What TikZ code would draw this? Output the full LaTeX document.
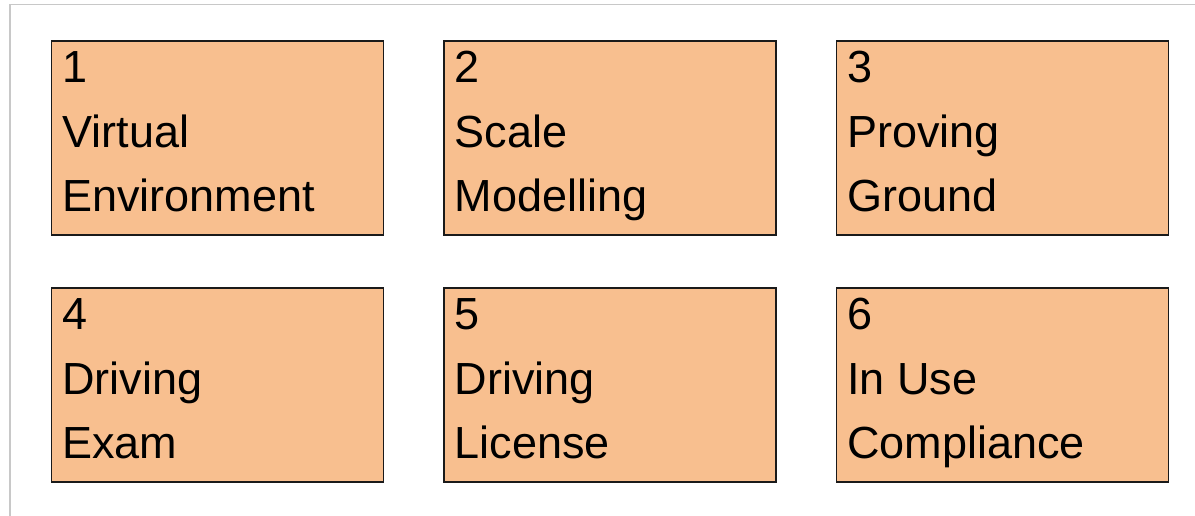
\documentclass[tikz,border=0pt]{standalone}
\usepackage{fontspec}
\setmainfont{Liberation Sans}
\definecolor{peach}{HTML}{F8BF8F}
\definecolor{framegray}{HTML}{C8C8C8}
\definecolor{edge}{HTML}{1A1A1A}
\newcommand{\boxtext}[3]{\parbox[b][194pt][t]{310pt}{\fontsize{45pt}{64.5pt}\selectfont\rule{0pt}{42pt}#1\\#2\\#3}}
\begin{document}
\begin{tikzpicture}[x=1pt,y=-1pt,
  stagebox/.style={draw=edge, line width=1.8pt, fill=peach, anchor=north west,
    inner xsep=11pt, inner ysep=0pt, minimum width=332pt, minimum height=194pt}]
\useasboundingbox (0,0) rectangle (1195,516);
\fill[white] (0,0) rectangle (1195,516);
\coordinate (ftop) at (1195,4.5);
\coordinate (fcorner) at (10,4.5);
\coordinate (fbottom) at (10,516);
\draw[framegray, line width=1.5pt] (ftop) -- (fcorner) -- (fbottom);
\node[stagebox] (b1) at (50.5,40) {\boxtext{1}{Virtual}{Environment}};
\node[stagebox] (b2) at (443,40) {\boxtext{2}{Scale}{Modelling}};
\node[stagebox] (b3) at (835.5,40) {\boxtext{3}{Proving}{Ground}};
\node[stagebox] (b4) at (50.5,287) {\boxtext{4}{Driving}{Exam}};
\node[stagebox] (b5) at (443,287) {\boxtext{5}{Driving}{License}};
\node[stagebox] (b6) at (835.5,287) {\boxtext{6}{In Use}{Compliance}};
\end{tikzpicture}
\end{document}
